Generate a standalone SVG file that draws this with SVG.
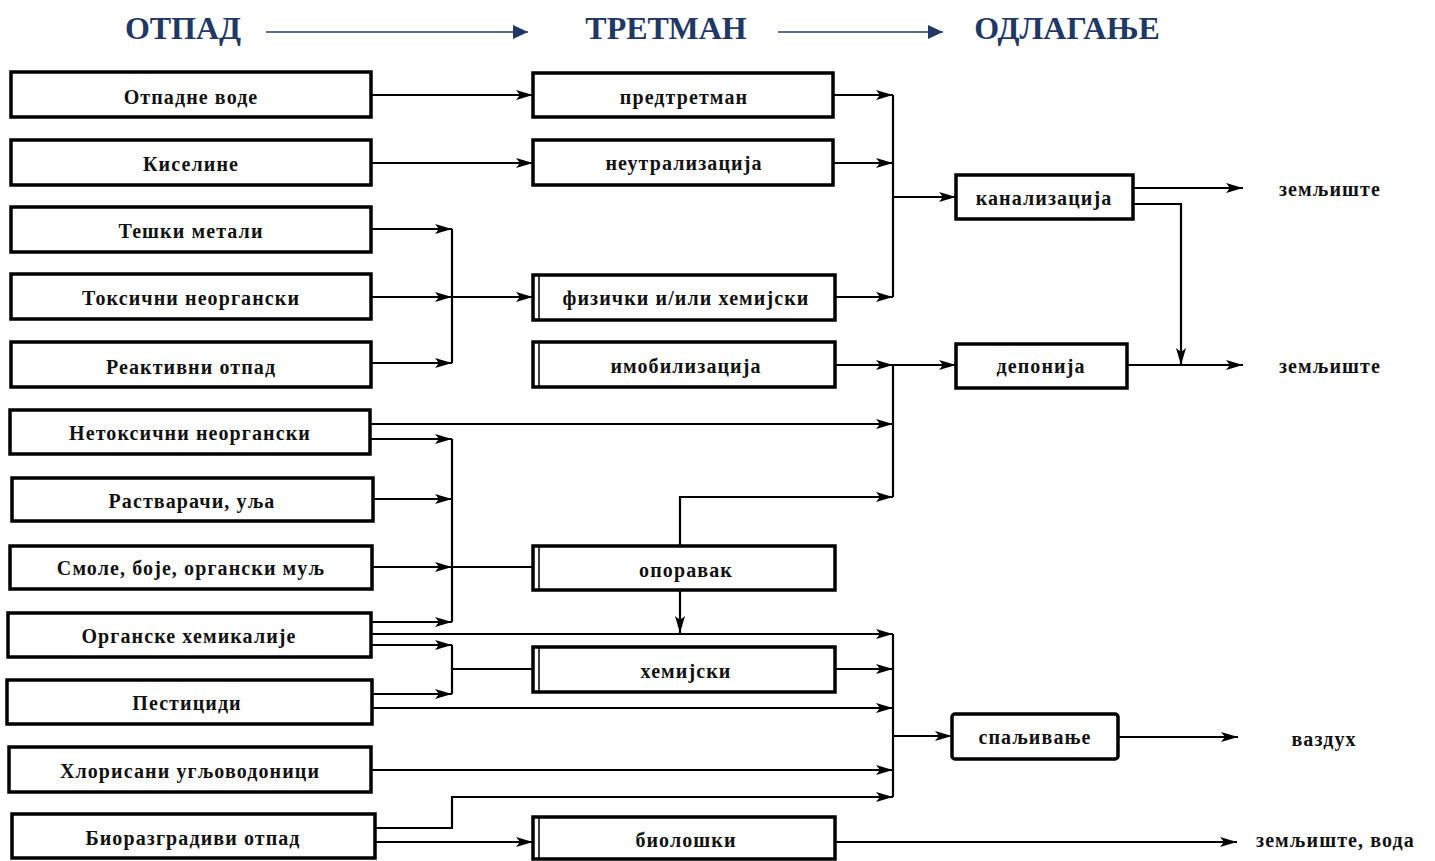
<svg xmlns="http://www.w3.org/2000/svg" width="1435" height="861" viewBox="0 0 1435 861">
<defs>
<marker id="ah" markerUnits="userSpaceOnUse" markerWidth="18" markerHeight="12" refX="17" refY="6" orient="auto">
<path d="M0,1 L17,6 L0,11 L4,6 Z" fill="#000"/>
</marker>
<marker id="hh" markerUnits="userSpaceOnUse" markerWidth="16" markerHeight="14" refX="15" refY="7" orient="auto">
<path d="M0,0 L15,7 L0,14 Z" fill="#1F3864"/>
</marker>
</defs>
<style>
.hd{font-family:"Liberation Serif","Times New Roman",serif;font-weight:bold;font-size:32px;fill:#1F3864;text-anchor:middle}
.ha{stroke:#5B6E95;stroke-width:2;fill:none}
.bx{fill:#fff;stroke:#000;stroke-width:3.5}
.db{stroke:#000;stroke-width:1.5;fill:none}
.t{font-family:"Liberation Serif","Times New Roman",serif;font-weight:bold;font-size:20px;letter-spacing:1.1px;fill:#111;text-anchor:middle}
.tl{font-family:"Liberation Serif","Times New Roman",serif;font-weight:bold;font-size:20px;letter-spacing:1.1px;fill:#111}
.c path{stroke:#000;stroke-width:2.2;fill:none}
</style>
<rect width="1435" height="861" fill="#fff"/>
<g id="header">
<text class="hd" x="183" y="39">ОТПАД</text>
<text class="hd" x="666" y="39">ТРЕТМАН</text>
<text class="hd" x="1067" y="39">ОДЛАГАЊЕ</text>
<path class="ha" d="M266,32 H528" marker-end="url(#hh)"/>
<path class="ha" d="M778,32 H943" marker-end="url(#hh)"/>
</g>
<g class="c" id="connectors">
<path d="M371,95 H533" marker-end="url(#ah)"/>
<path d="M371,163 H533" marker-end="url(#ah)"/>
<path d="M371,229 H452" marker-end="url(#ah)"/>
<path d="M371,297 H452" marker-end="url(#ah)"/>
<path d="M452,297 H533" marker-end="url(#ah)"/>
<path d="M371,363 H452" marker-end="url(#ah)"/>
<path d="M452,229 V363"/>
<path d="M370,424 H893" marker-end="url(#ah)"/>
<path d="M370,439 H452" marker-end="url(#ah)"/>
<path d="M373,499 H452" marker-end="url(#ah)"/>
<path d="M372,567 H452" marker-end="url(#ah)"/>
<path d="M452,567 H533"/>
<path d="M371,622 H452" marker-end="url(#ah)"/>
<path d="M452,439 V622"/>
<path d="M371,634 H893" marker-end="url(#ah)"/>
<path d="M371,645 H452" marker-end="url(#ah)"/>
<path d="M372,694 H452" marker-end="url(#ah)"/>
<path d="M452,645 V694"/>
<path d="M452,669 H533"/>
<path d="M372,708 H893" marker-end="url(#ah)"/>
<path d="M371,770 H893" marker-end="url(#ah)"/>
<path d="M375,828 H452 V797 H893" marker-end="url(#ah)"/>
<path d="M375,842 H533" marker-end="url(#ah)"/>
<path d="M833,95 H893" marker-end="url(#ah)"/>
<path d="M833,163 H893" marker-end="url(#ah)"/>
<path d="M835,297 H893" marker-end="url(#ah)"/>
<path d="M893,95 V297"/>
<path d="M893,197 H956" marker-end="url(#ah)"/>
<path d="M835,365 H893" marker-end="url(#ah)"/>
<path d="M893,365 H956" marker-end="url(#ah)"/>
<path d="M893,365 V497"/>
<path d="M680,546 V497 H893" marker-end="url(#ah)"/>
<path d="M680,590 V633" marker-end="url(#ah)"/>
<path d="M835,669 H893" marker-end="url(#ah)"/>
<path d="M893,634 V797"/>
<path d="M893,736 H952" marker-end="url(#ah)"/>
<path d="M835,842 H1237" marker-end="url(#ah)"/>
<path d="M1133,188 H1243" marker-end="url(#ah)"/>
<path d="M1133,204 H1181 V365" marker-end="url(#ah)"/>
<path d="M1127,365 H1243" marker-end="url(#ah)"/>
<path d="M1118,737 H1238" marker-end="url(#ah)"/>
</g>
<g id="n1"><rect class="bx" x="11" y="72" width="360" height="45"/><text class="t" x="191" y="104">Отпадне воде</text></g>
<g id="n2"><rect class="bx" x="11" y="140" width="360" height="45"/><text class="t" x="191" y="171">Киселине</text></g>
<g id="n3"><rect class="bx" x="11" y="207" width="360" height="45"/><text class="t" x="191" y="238">Тешки метали</text></g>
<g id="n4"><rect class="bx" x="11" y="274" width="360" height="45"/><text class="t" x="191" y="305">Токсични неоргански</text></g>
<g id="n5"><rect class="bx" x="11" y="342" width="360" height="45"/><text class="t" x="191" y="374">Реактивни отпад</text></g>
<g id="n6"><rect class="bx" x="10" y="410" width="360" height="44"/><text class="t" x="190" y="440">Нетоксични неоргански</text></g>
<g id="n7"><rect class="bx" x="12" y="478" width="361" height="43"/><text class="t" x="192" y="508">Растварачи, уља</text></g>
<g id="n8"><rect class="bx" x="10" y="546" width="362" height="43"/><text class="t" x="191" y="575">Смоле, боје, органски муљ</text></g>
<g id="n9"><rect class="bx" x="8" y="613" width="363" height="44"/><text class="t" x="189" y="643">Органске хемикалије</text></g>
<g id="n10"><rect class="bx" x="7" y="680" width="365" height="44"/><text class="t" x="187" y="710">Пестициди</text></g>
<g id="n11"><rect class="bx" x="9" y="747" width="362" height="45"/><text class="t" x="190" y="778">Хлорисани угљоводоници</text></g>
<g id="n12"><rect class="bx" x="12" y="814" width="363" height="44"/><text class="t" x="193" y="845">Биоразградиви отпад</text></g>
<g id="m1"><rect class="bx" x="533" y="73" width="300" height="44"/><text class="t" x="684" y="104">предтретман</text></g>
<g id="m2"><rect class="bx" x="533" y="140" width="300" height="45"/><text class="t" x="684" y="170">неутрализација</text></g>
<g id="m3"><rect class="bx" x="533" y="275" width="302" height="45"/><path class="db" d="M539,275 V320"/><text class="t" x="686" y="305">физички и/или хемијски</text></g>
<g id="m4"><rect class="bx" x="533" y="342" width="302" height="45"/><path class="db" d="M539,342 V387"/><text class="t" x="686" y="373">имобилизација</text></g>
<g id="m5"><rect class="bx" x="533" y="546" width="302" height="44"/><path class="db" d="M539,546 V590"/><text class="t" x="686" y="577">опоравак</text></g>
<g id="m6"><rect class="bx" x="533" y="647" width="302" height="45"/><path class="db" d="M539,647 V692"/><text class="t" x="686" y="678">хемијски</text></g>
<g id="m7"><rect class="bx" x="533" y="817" width="302" height="42"/><path class="db" d="M539,817 V859"/><text class="t" x="686" y="847">биолошки</text></g>
<g id="r1"><rect class="bx" x="956" y="175" width="177" height="44"/><text class="t" x="1044" y="205">канализација</text></g>
<g id="r2"><rect class="bx" x="956" y="344" width="171" height="44"/><text class="t" x="1041" y="373">депонија</text></g>
<g id="r3"><rect class="bx" x="952" y="714" width="166" height="45" rx="3"/><text class="t" x="1035" y="744">спаљивање</text></g>
<g id="labels">
<text class="t" x="1330" y="196">земљиште</text>
<text class="t" x="1330" y="373">земљиште</text>
<text class="t" x="1324" y="746">ваздух</text>
<text class="tl" x="1256" y="847">земљиште, вода</text>
</g>
</svg>
